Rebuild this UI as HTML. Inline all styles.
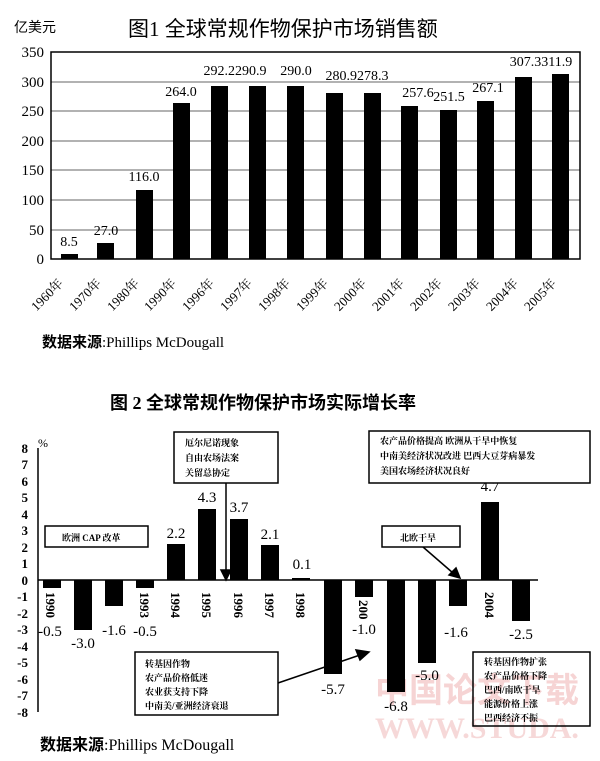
<!DOCTYPE html>
<html><head><meta charset="utf-8"><style>
body{margin:0;background:#fff}
svg text{font-family:"Liberation Serif","Noto Serif CJK SC",serif;fill:#000}
.cj{font-family:"Liberation Serif","Noto Sans CJK SC",sans-serif}
</style></head><body>
<svg width="600" height="756" viewBox="0 0 600 756" xmlns="http://www.w3.org/2000/svg">
<rect width="600" height="756" fill="#fff"/>
<!-- Chart 1 -->
<text x="14" y="32" font-size="14" class="cj">亿美元</text>
<text x="128" y="36" font-size="21" class="cj">图1  全球常规作物保护市场销售额</text>
<g stroke="#666" stroke-width="1">
<line x1="51" y1="82" x2="580" y2="82"/><line x1="51" y1="111" x2="580" y2="111"/>
<line x1="51" y1="141" x2="580" y2="141"/><line x1="51" y1="170" x2="580" y2="170"/>
<line x1="51" y1="200" x2="580" y2="200"/><line x1="51" y1="230" x2="580" y2="230"/>
</g>
<rect x="51" y="52" width="529" height="207" fill="none" stroke="#000" stroke-width="1.5"/>
<g font-size="15" text-anchor="end">
<text x="44" y="57">350</text><text x="44" y="87">300</text><text x="44" y="116">250</text>
<text x="44" y="146">200</text><text x="44" y="175">150</text><text x="44" y="205">100</text>
<text x="44" y="235">50</text><text x="44" y="264">0</text>
</g>
<g fill="#000">
<rect x="61" y="254" width="17" height="5"/>
<rect x="97" y="243" width="17" height="16"/>
<rect x="136" y="190" width="17" height="69"/>
<rect x="173" y="103" width="17" height="156"/>
<rect x="211" y="86" width="17" height="173"/>
<rect x="249" y="86" width="17" height="173"/>
<rect x="287" y="86" width="17" height="173"/>
<rect x="326" y="93" width="17" height="166"/>
<rect x="364" y="93" width="17" height="166"/>
<rect x="401" y="106" width="17" height="153"/>
<rect x="440" y="110" width="17" height="149"/>
<rect x="477" y="101" width="17" height="158"/>
<rect x="515" y="77" width="17" height="182"/>
<rect x="552" y="74" width="17" height="185"/>
</g>
<g font-size="14" text-anchor="middle">
<text x="69" y="246">8.5</text><text x="106" y="235">27.0</text><text x="144" y="181">116.0</text>
<text x="181" y="96">264.0</text><text x="235" y="75">292.2290.9</text><text x="296" y="75">290.0</text>
<text x="357" y="80">280.9278.3</text><text x="418" y="97">257.6</text><text x="449" y="101">251.5</text>
<text x="488" y="92">267.1</text><text x="541" y="66">307.3311.9</text>
</g>
<g font-size="13" class="cj">
<text transform="translate(64,284) rotate(-45)" text-anchor="end">1960年</text>
<text transform="translate(102,284) rotate(-45)" text-anchor="end">1970年</text>
<text transform="translate(140,284) rotate(-45)" text-anchor="end">1980年</text>
<text transform="translate(177,284) rotate(-45)" text-anchor="end">1990年</text>
<text transform="translate(215,284) rotate(-45)" text-anchor="end">1996年</text>
<text transform="translate(253,284) rotate(-45)" text-anchor="end">1997年</text>
<text transform="translate(291,284) rotate(-45)" text-anchor="end">1998年</text>
<text transform="translate(329,284) rotate(-45)" text-anchor="end">1999年</text>
<text transform="translate(367,284) rotate(-45)" text-anchor="end">2000年</text>
<text transform="translate(405,284) rotate(-45)" text-anchor="end">2001年</text>
<text transform="translate(443,284) rotate(-45)" text-anchor="end">2002年</text>
<text transform="translate(481,284) rotate(-45)" text-anchor="end">2003年</text>
<text transform="translate(519,284) rotate(-45)" text-anchor="end">2004年</text>
<text transform="translate(557,284) rotate(-45)" text-anchor="end">2005年</text>
</g>
<text x="42" y="347" font-size="15" class="cj" font-weight="bold">数据来源<tspan font-weight="normal">:Phillips McDougall</tspan></text>

<!-- Chart 2 -->
<text x="110" y="409" font-size="18" class="cj" font-weight="bold">图 2    全球常规作物保护市场实际增长率</text>
<text x="375" y="702" font-size="34" style="fill:#f6d4d4" class="cj" font-weight="bold">中国论文下载</text>
<text x="375" y="738" font-size="30" style="fill:#f6d8d8" font-family="Liberation Sans" font-weight="bold">WWW.STUDA.</text>
<line x1="38" y1="448" x2="38" y2="712" stroke="#000" stroke-width="1.5"/>
<line x1="38" y1="580" x2="538" y2="580" stroke="#000" stroke-width="1.5"/>
<text x="38" y="447" font-size="12">%</text>
<g font-size="13" text-anchor="end" font-weight="bold">
<text x="28" y="453">8</text><text x="28" y="469">7</text><text x="28" y="486">6</text><text x="28" y="502">5</text>
<text x="28" y="519">4</text><text x="28" y="535">3</text><text x="28" y="552">2</text><text x="28" y="568">1</text>
<text x="28" y="585">0</text><text x="28" y="601">-1</text><text x="28" y="618">-2</text><text x="28" y="634">-3</text>
<text x="28" y="651">-4</text><text x="28" y="667">-5</text><text x="28" y="684">-6</text><text x="28" y="700">-7</text>
<text x="28" y="717">-8</text>
</g>
<g fill="#000">
<rect x="43" y="580" width="18" height="8"/>
<rect x="74" y="580" width="18" height="50"/>
<rect x="105" y="580" width="18" height="26"/>
<rect x="136" y="580" width="18" height="8"/>
<rect x="167" y="544" width="18" height="36"/>
<rect x="198" y="509" width="18" height="71"/>
<rect x="230" y="519" width="18" height="61"/>
<rect x="261" y="545" width="18" height="35"/>
<rect x="292" y="578" width="18" height="2"/>
<rect x="324" y="580" width="18" height="94"/>
<rect x="355" y="580" width="18" height="17"/>
<rect x="387" y="580" width="18" height="112"/>
<rect x="418" y="580" width="18" height="83"/>
<rect x="449" y="580" width="18" height="26"/>
<rect x="481" y="502" width="18" height="78"/>
<rect x="512" y="580" width="18" height="41"/>
</g>
<g font-size="13" font-weight="bold">
<text transform="translate(46,592) rotate(90)">1990</text>
<text transform="translate(140,592) rotate(90)">1993</text>
<text transform="translate(171,592) rotate(90)">1994</text>
<text transform="translate(202,592) rotate(90)">1995</text>
<text transform="translate(234,592) rotate(90)">1996</text>
<text transform="translate(265,592) rotate(90)">1997</text>
<text transform="translate(296,592) rotate(90)">1998</text>
<text transform="translate(359,600) rotate(90)">200</text>
<text transform="translate(485,592) rotate(90)">2004</text>
</g>
<g font-size="15" text-anchor="middle">
<text x="50" y="636">-0.5</text><text x="83" y="648">-3.0</text><text x="114" y="635">-1.6</text>
<text x="145" y="636">-0.5</text><text x="176" y="538">2.2</text><text x="207" y="502">4.3</text>
<text x="239" y="512">3.7</text><text x="270" y="539">2.1</text><text x="302" y="569">0.1</text>
<text x="333" y="694">-5.7</text><text x="364" y="634">-1.0</text><text x="396" y="711">-6.8</text>
<text x="427" y="680">-5.0</text><text x="456" y="637">-1.6</text><text x="490" y="491">4.7</text>
<text x="521" y="639">-2.5</text>
</g>
<g fill="#fff" stroke="#000" stroke-width="1.5">
<rect x="174" y="432" width="104" height="51"/>
<rect x="369" y="431" width="221" height="52"/>
<rect x="45" y="526" width="103" height="21"/>
<rect x="382" y="526" width="78" height="21"/>
<rect x="135" y="652" width="143" height="63"/>
<rect x="473" y="652" width="117" height="74" fill="none"/>
</g>
<g font-size="9" class="cj" font-weight="bold">
<text x="185" y="446">厄尔尼诺现象</text><text x="185" y="461">自由农场法案</text><text x="185" y="476">关留总协定</text>
<text x="380" y="444">农产品价格提高  欧洲从干旱中恢复</text>
<text x="380" y="459">中南美经济状况改进  巴西大豆芽病暴发</text>
<text x="380" y="474">美国农场经济状况良好</text>
<text x="62" y="541">欧洲 CAP 改革</text>
<text x="400" y="541">北欧干旱</text>
<text x="145" y="667">转基因作物</text><text x="145" y="681">农产品价格低迷</text>
<text x="145" y="695">农业获支持下降</text><text x="145" y="709">中南美/亚洲经济衰退</text>
<text x="484" y="665">转基因作物扩张</text><text x="484" y="679">农产品价格下降</text>
<text x="484" y="693">巴西/南欧干旱</text><text x="484" y="707">能源价格上涨</text>
<text x="484" y="721">巴西经济不振</text>
</g>
<g stroke="#000" stroke-width="1.5" fill="#000">
<line x1="226" y1="483" x2="226" y2="572"/><polygon points="221,570 231,570 226,580"/>
<line x1="423" y1="547" x2="453" y2="573"/><polygon points="449,575 456,568 460,578"/>
<line x1="278" y1="683" x2="360" y2="655"/><polygon points="356,650 360,660 369,652"/>
</g>
<text x="40" y="750" font-size="16" class="cj" font-weight="bold">数据来源<tspan font-weight="normal">:Phillips McDougall</tspan></text>
</svg>
</body></html>
